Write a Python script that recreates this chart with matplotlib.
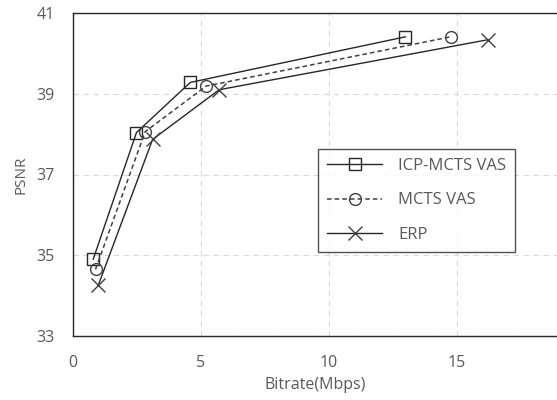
import matplotlib.pyplot as plt

# data
icp_x = [0.79, 2.48, 4.58, 12.98]
icp_y = [34.90, 38.04, 39.28, 40.41]
mcts_x = [0.88, 2.82, 5.20, 14.75]
mcts_y = [34.65, 38.06, 39.19, 40.41]
erp_x = [0.99, 3.11, 5.71, 16.22]
erp_y = [34.26, 37.87, 39.10, 40.34]

plt.rcParams['font.family'] = ['Open Sans', 'DejaVu Sans']
txt = '#595959'

fig = plt.figure(figsize=(5.57, 4), dpi=100)
ax = fig.add_axes([0.131, 0.16, 0.869, 0.8075])

ax.plot(icp_x, icp_y, color='#262626', lw=1, marker='s', ms=8.5,
        mfc='none', mec='#262626', mew=1, label='ICP-MCTS VAS')
ax.plot(mcts_x, mcts_y, color='#404040', lw=1.1, ls=(0, (3, 2)), marker='o', ms=8.5,
        mfc='none', mec='#404040', mew=1, label='MCTS VAS')
ax.plot(erp_x, erp_y, color='#262626', lw=1, marker='x', ms=10,
        mec='#404040', mew=1, label='ERP')

ax.set_xlim(0, 18.9)
ax.set_ylim(33, 41)
ax.set_xticks([0, 5, 10, 15])
ax.set_yticks([33, 35, 37, 39, 41])
ax.grid(True, color='#d9d9d9', ls=(0, (5, 4)), lw=0.8)
ax.tick_params(length=0, labelsize=11.5, labelcolor=txt)
ax.tick_params(axis='x', pad=14)
ax.tick_params(axis='y', pad=13)
for s in ['left', 'bottom', 'top']:
    ax.spines[s].set_color('#262626')
    ax.spines[s].set_linewidth(1)
ax.spines['right'].set_visible(False)

ax.set_xlabel('Bitrate(Mbps)', color=txt, fontsize=11.5, labelpad=4)
ax.set_ylabel('PSNR', color=txt, fontsize=11, labelpad=6)

leg = ax.legend(loc='upper left', bbox_to_anchor=(0.506, 0.579), fontsize=12,
                frameon=True, fancybox=False, edgecolor='#262626', labelcolor=txt,
                handlelength=3.3, labelspacing=1.1, borderpad=0.55,
                handletextpad=0.95, borderaxespad=0)
leg.get_frame().set_linewidth(1)

fig.savefig('out.png', dpi=100)
